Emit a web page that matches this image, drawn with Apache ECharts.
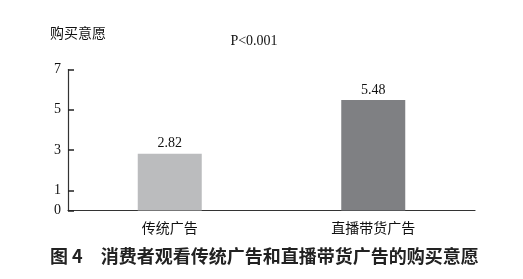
<!DOCTYPE html>
<html><head><meta charset="utf-8">
<script src="https://cdn.jsdelivr.net/npm/echarts@6/dist/echarts.min.js"></script>
<style>html,body{margin:0;padding:0;background:#fff}#c{width:523px;height:279px}</style>
</head><body><div id="c"></div>
<script>
const categories = ['传统广告', '直播带货广告'];
const values = [2.82, 5.48];
const barColors = ['#bbbcbe', '#7f8083'];
const yTicks = [0, 1, 3, 5, 7];
const yName = '购买意愿';
const pText = 'P<0.001';
const caption = '图 4\u3000消费者观看传统广告和直播带货广告的购买意愿';

const chart = echarts.init(document.getElementById('c'), null, {renderer: 'canvas'});
chart.setOption({
  animation: false,
  backgroundColor: '#fff',
  grid: {left: 68, right: 48, top: 69.5, bottom: 68.5, containLabel: false},
  graphic: [
    {type: 'text', x: 50, y: 33, style: {text: yName, font: '14px "Noto Sans CJK SC"', fill: '#111', verticalAlign: 'middle'}},
    {type: 'text', x: 254, y: 41, style: {text: pText, font: '14px "Liberation Serif"', fill: '#111', align: 'center', verticalAlign: 'middle'}},
    {type: 'text', x: 50, y: 256, style: {text: caption, font: 'bold 18px "Noto Sans CJK SC"', fill: '#222', verticalAlign: 'middle'}}
  ],
  xAxis: {
    type: 'category', data: categories,
    axisLine: {lineStyle: {color: '#333', width: 1.2}},
    axisTick: {show: false},
    axisLabel: {color: '#111', fontSize: 14, fontFamily: 'Noto Sans CJK SC', margin: 10}
  },
  yAxis: {
    type: 'value', min: 0, max: 7,
    splitLine: {show: false},
    axisLine: {show: true, lineStyle: {color: '#333', width: 1.2}},
    axisTick: {show: true, inside: true, length: 6, customValues: yTicks, lineStyle: {color: '#222', width: 1.5}},
    axisLabel: {color: '#111', fontSize: 14, fontFamily: 'Liberation Serif', margin: 7, customValues: yTicks}
  },
  series: [{
    type: 'bar', barWidth: 64,
    data: values.map((v, i) => ({value: v, itemStyle: {color: barColors[i]}})),
    label: {show: true, position: 'top', distance: 3, color: '#111', fontSize: 14, fontFamily: 'Liberation Serif'}
  }]
});
</script></body></html>
